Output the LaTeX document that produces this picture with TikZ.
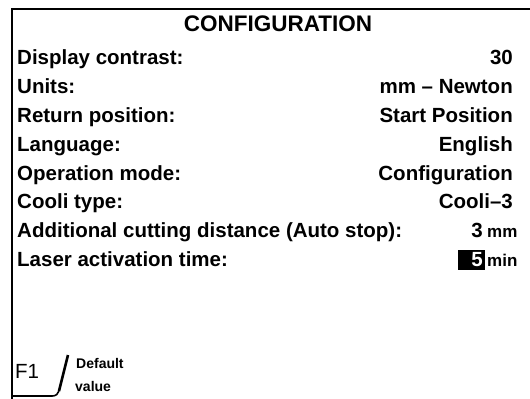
\documentclass[tikz,border=0pt]{standalone}
\usepackage{fontspec}
\setmainfont{Liberation Sans}
\begin{document}
\begin{tikzpicture}[x=1bp,y=-1bp,
  lbl/.style={anchor=base west,inner sep=0pt,font=\fontsize{20.5bp}{24bp}\selectfont\bfseries},
  val/.style={anchor=base east,inner sep=0pt,font=\fontsize{20.5bp}{24bp}\selectfont\bfseries},
  unit/.style={anchor=base west,inner sep=0pt,font=\fontsize{17bp}{20bp}\selectfont\bfseries},
  small/.style={anchor=base west,inner sep=0pt,font=\fontsize{14bp}{16bp}\selectfont\bfseries},
  frame/.style={line width=1.6bp,line cap=rect}]
\useasboundingbox (0,0) rectangle (530,398);
\fill[white] (0,0) rectangle (530,398);
% frame
\coordinate (fbl) at (12,398);
\coordinate (ftl) at (12,9);
\coordinate (ftr) at (530,9);
\draw[frame] (fbl) -- (ftl) -- (ftr);
% title
\node[anchor=base,inner sep=0pt,font=\fontsize{22.5bp}{26bp}\selectfont\bfseries] (title) at (278,31) {CONFIGURATION};
% rows
\node[lbl] (l1) at (17,64) {Display contrast:};
\node[lbl] (l2) at (17,93) {Units:};
\node[lbl] (l3) at (17,122) {Return position:};
\node[lbl] (l4) at (17,151) {Language:};
\node[lbl] (l5) at (17,180) {Operation mode:};
\node[lbl] (l6) at (17,208) {Cooli type:};
\node[lbl] (l7) at (17,237) {Additional cutting distance (Auto stop):};
\node[lbl] (l8) at (17,266) {Laser activation time:};
\node[val] (v1) at (513,64) {30};
\node[val] (v2) at (513,93) {mm – Newton};
\node[val] (v3) at (513,122) {Start Position};
\node[val] (v4) at (513,151) {English};
\node[val] (v5) at (513,180) {Configuration};
\node[val] (v6) at (513,208) {Cooli–3};
\node[val] (v7) at (483,237) {3};
\node[unit] (u7) at (487,237) {mm};
\node[fill=black,inner sep=0pt,minimum width=27bp,minimum height=20bp,anchor=north west] (box) at (458,250) {};
\node[val,text=white] (v8) at (483,266) {5};
\node[unit] (u8) at (487,266) {min};
% F1 tab
\node[anchor=base west,inner sep=0pt,font=\fontsize{20.5bp}{24bp}\selectfont] (f1) at (15,378) {F1};
\node[small] (d1) at (76,368) {Default};
\node[small] (d2) at (75,391) {value};
\coordinate (ta) at (12,396);
\coordinate (tb) at (52,396);
\coordinate (tc) at (59,391);
\coordinate (td) at (68,355);
\draw[line width=1.6bp] (ta) -- (tb) .. controls (56,396) and (58,394) .. (tc);
\draw[line width=2.6bp] (tc) -- (td);
\end{tikzpicture}
\end{document}
